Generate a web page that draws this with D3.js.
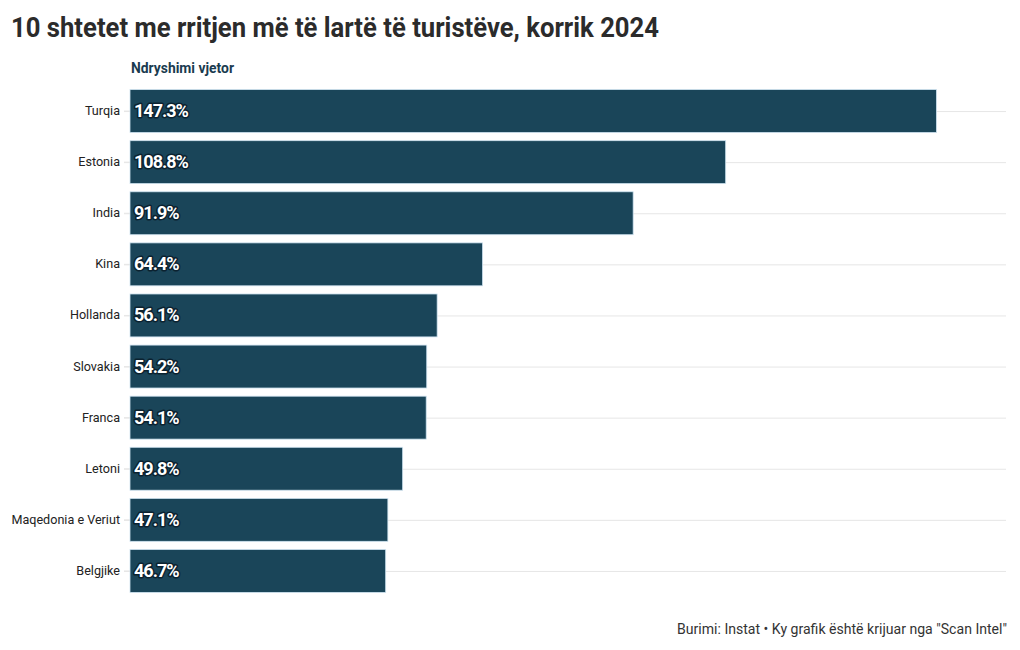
<!DOCTYPE html>
<html><head><meta charset="utf-8">
<script src="https://cdn.jsdelivr.net/npm/d3@7"></script>
<style>
body{margin:0;background:#fff;}
svg{display:block;font-family:Roboto, "Liberation Sans", sans-serif;}
</style></head>
<body><svg id="c" width="1020" height="650"></svg>
<script>
const categories = ["Turqia","Estonia","India","Kina","Hollanda","Slovakia","Franca","Letoni","Maqedonia e Veriut","Belgjike"];
const values = [147.3,108.8,91.9,64.4,56.1,54.2,54.1,49.8,47.1,46.7];
const labels = ["147.3%","108.8%","91.9%","64.4%","56.1%","54.2%","54.1%","49.8%","47.1%","46.7%"];

const svg = d3.select("#c");
const x = d3.scaleLinear().domain([0,160]).range([130,1006]);
const y = d3.scaleBand().domain(categories).range([85.5,596.5]).paddingInner(0.16).paddingOuter(0.08);

// title
svg.append("text").attr("x",11).attr("y",37)
  .attr("font-size",28).attr("font-weight",700).attr("fill","#2b2b2b")
  .attr("textLength",648).attr("lengthAdjust","spacingAndGlyphs")
  .text("10 shtetet me rritjen më të lartë të turistëve, korrik 2024");

svg.append("text").attr("x",131).attr("y",73)
  .attr("font-size",14).attr("font-weight",700).attr("fill","#1a3b4f")
  .attr("textLength",103).attr("lengthAdjust","spacingAndGlyphs")
  .text("Ndryshimi vjetor");

// grid lines
svg.append("g").selectAll("line").data(categories).join("line")
  .attr("x1",124).attr("x2",1006)
  .attr("y1",d=>y(d)+y.bandwidth()/2+0.5).attr("y2",d=>y(d)+y.bandwidth()/2+0.5)
  .attr("stroke","#e6e6e6").attr("stroke-width",1);

// axis labels
const ax = svg.append("g").attr("transform","translate(130,0)")
  .call(d3.axisLeft(y).tickSize(6).tickPadding(4));
ax.select(".domain").remove();
ax.selectAll(".tick line").attr("stroke","#e6e6e6");
ax.selectAll(".tick text").attr("font-size",12.6).attr("fill","#222")
  .attr("font-family","Roboto, sans-serif");

// bars
svg.append("g").selectAll("rect").data(values).join("rect")
  .attr("x",x(0)).attr("y",(d,i)=>y(categories[i]))
  .attr("width",d=>x(d)-x(0)).attr("height",y.bandwidth())
  .attr("fill","#1a4559").attr("stroke","#cfe3f0").attr("stroke-width",0.8);

// value labels
const vl = svg.append("g");
vl.selectAll("text.halo").data(labels).join("text").attr("class","halo")
  .attr("x",134).attr("y",(d,i)=>y(categories[i])+y.bandwidth()/2+6)
  .attr("font-size",18).attr("font-weight",700).attr("letter-spacing",-1)
  .attr("fill","none").attr("stroke","#0b2230").attr("stroke-width",3).attr("stroke-linejoin","round")
  .text(d=>d);
vl.selectAll("text.val").data(labels).join("text").attr("class","val")
  .attr("x",134).attr("y",(d,i)=>y(categories[i])+y.bandwidth()/2+6)
  .attr("font-size",18).attr("font-weight",700).attr("letter-spacing",-1)
  .attr("fill","#fff")
  .text(d=>d);

// footer
svg.append("text").attr("x",1007).attr("y",634).attr("text-anchor","end")
  .attr("font-size",14).attr("fill","#333")
  .attr("textLength",330).attr("lengthAdjust","spacingAndGlyphs")
  .text("Burimi: Instat • Ky grafik është krijuar nga \"Scan Intel\"");
</script></body></html>
